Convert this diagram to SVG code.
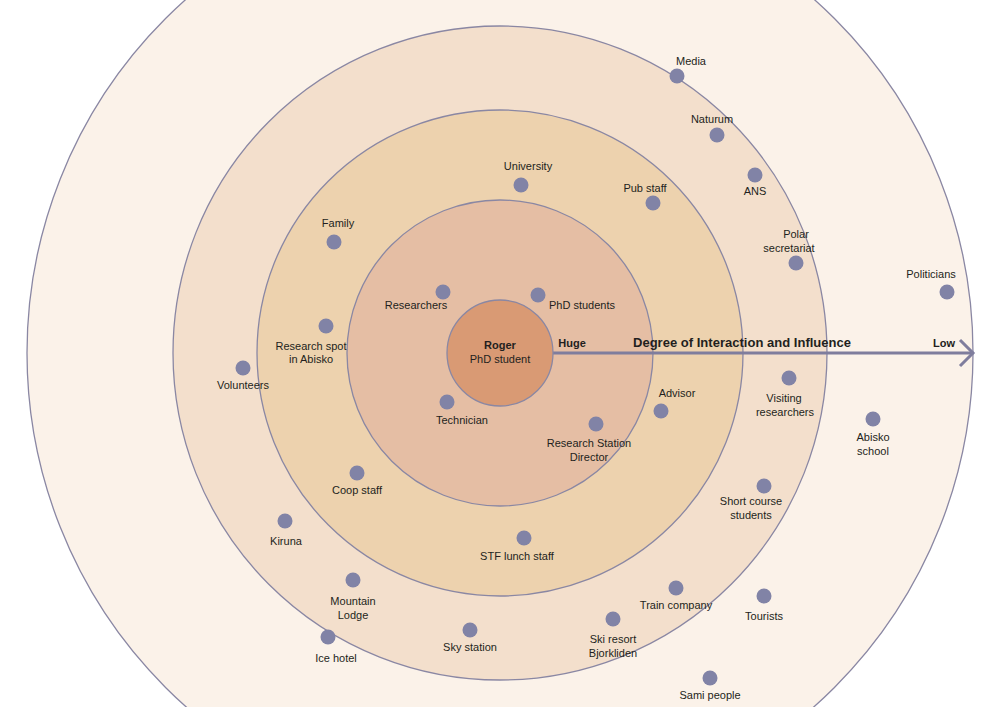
<svg xmlns="http://www.w3.org/2000/svg" width="1000" height="707" viewBox="0 0 1000 707">
<style>
.ring{stroke:#8a87a3;stroke-width:1.3}
.dot{fill:#8183a6}
text{font-family:"Liberation Sans",Arial,sans-serif;font-size:11px;fill:#231f20;text-anchor:middle}
.b{font-weight:bold}
</style>
<rect width="1000" height="707" fill="#ffffff"/>
<g id="rings">
<circle class="ring" cx="500" cy="353" r="473" fill="#fbf2e9"/>
<circle class="ring" cx="500" cy="353" r="327" fill="#f3dfcc"/>
<circle class="ring" cx="500" cy="353" r="243" fill="#edd2ae"/>
<circle class="ring" cx="500" cy="353" r="153" fill="#e5bea4"/>
</g>
<g id="connectors">
<line x1="553" y1="353" x2="971" y2="353" stroke="#7f7d9d" stroke-width="3"/>
<polyline points="960,340 973,353 960,366" fill="none" stroke="#7f7d9d" stroke-width="3"/>
</g>
<g id="roger">
<circle class="ring" cx="500" cy="353" r="53" fill="#d99a74"/>
<text class="b" x="500" y="349">Roger</text>
<text x="500" y="363">PhD student</text>
</g>
<g id="axis-labels">
<text class="b" x="572" y="347">Huge</text>
<text class="b" x="742" y="347" style="font-size:13px" textLength="218">Degree of Interaction and Influence</text>
<text class="b" x="944" y="347">Low</text>
</g>
<g id="media"><circle class="dot" cx="677" cy="76" r="7.5"/><text x="691" y="65">Media</text></g>
<g id="naturum"><circle class="dot" cx="717" cy="135" r="7.5"/><text x="712" y="123">Naturum</text></g>
<g id="ans"><circle class="dot" cx="755" cy="175" r="7.5"/><text x="755" y="195">ANS</text></g>
<g id="polar"><circle class="dot" cx="796" cy="263" r="7.5"/><text x="796" y="238">Polar</text><text x="789" y="252">secretariat</text></g>
<g id="politicians"><circle class="dot" cx="947" cy="292" r="7.5"/><text x="931" y="278">Politicians</text></g>
<g id="university"><circle class="dot" cx="521" cy="185" r="7.5"/><text x="528" y="170">University</text></g>
<g id="pubstaff"><circle class="dot" cx="653" cy="203" r="7.5"/><text x="645" y="192">Pub staff</text></g>
<g id="family"><circle class="dot" cx="334" cy="242" r="7.5"/><text x="338" y="227">Family</text></g>
<g id="researchers"><circle class="dot" cx="443" cy="292" r="7.5"/><text x="416" y="309">Researchers</text></g>
<g id="phdstudents"><circle class="dot" cx="538" cy="295" r="7.5"/><text x="582" y="309">PhD students</text></g>
<g id="researchspot"><circle class="dot" cx="326" cy="326" r="7.5"/><text x="311" y="350">Research spot</text><text x="311" y="363">in Abisko</text></g>
<g id="volunteers"><circle class="dot" cx="243" cy="368" r="7.5"/><text x="243" y="389">Volunteers</text></g>
<g id="technician"><circle class="dot" cx="447" cy="402" r="7.5"/><text x="462" y="424">Technician</text></g>
<g id="advisor"><circle class="dot" cx="661" cy="411" r="7.5"/><text x="677" y="397">Advisor</text></g>
<g id="rsdirector"><circle class="dot" cx="596" cy="424" r="7.5"/><text x="589" y="447">Research Station</text><text x="589" y="461">Director</text></g>
<g id="visiting"><circle class="dot" cx="789" cy="378" r="7.5"/><text x="784" y="402">Visiting</text><text x="785" y="416">researchers</text></g>
<g id="abiskoschool"><circle class="dot" cx="873" cy="419" r="7.5"/><text x="873" y="441">Abisko</text><text x="873" y="455">school</text></g>
<g id="coopstaff"><circle class="dot" cx="357" cy="473" r="7.5"/><text x="357" y="494">Coop staff</text></g>
<g id="shortcourse"><circle class="dot" cx="764" cy="486" r="7.5"/><text x="751" y="505">Short course</text><text x="751" y="519">students</text></g>
<g id="kiruna"><circle class="dot" cx="285" cy="521" r="7.5"/><text x="286" y="545">Kiruna</text></g>
<g id="stflunch"><circle class="dot" cx="524" cy="538" r="7.5"/><text x="517" y="560">STF lunch staff</text></g>
<g id="mountainlodge"><circle class="dot" cx="353" cy="580" r="7.5"/><text x="353" y="605">Mountain</text><text x="353" y="619">Lodge</text></g>
<g id="traincompany"><circle class="dot" cx="676" cy="588" r="7.5"/><text x="676" y="609">Train company</text></g>
<g id="tourists"><circle class="dot" cx="764" cy="596" r="7.5"/><text x="764" y="620">Tourists</text></g>
<g id="skiresort"><circle class="dot" cx="613" cy="619" r="7.5"/><text x="613" y="643">Ski resort</text><text x="613" y="657">Bjorkliden</text></g>
<g id="icehotel"><circle class="dot" cx="328" cy="637" r="7.5"/><text x="336" y="662">Ice hotel</text></g>
<g id="skystation"><circle class="dot" cx="470" cy="630" r="7.5"/><text x="470" y="651">Sky station</text></g>
<g id="sami"><circle class="dot" cx="710" cy="678" r="7.5"/><text x="710" y="699">Sami people</text></g>
</svg>
